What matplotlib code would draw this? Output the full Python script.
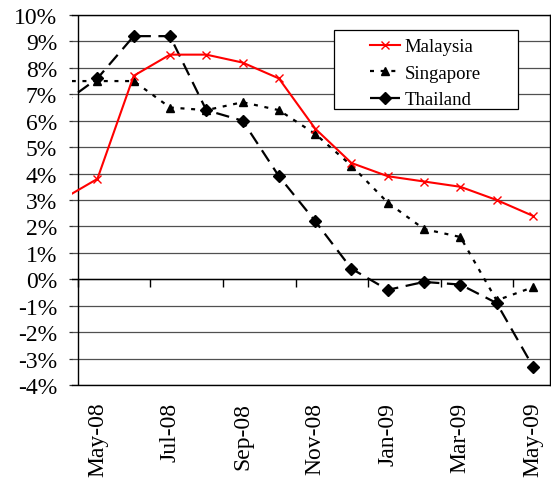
import matplotlib
matplotlib.use("Agg")
import matplotlib.pyplot as plt
from matplotlib.patches import Rectangle

# Monthly inflation rates (%), Apr-08 .. May-09
months = ["Apr-08", "May-08", "Jun-08", "Jul-08", "Aug-08", "Sep-08", "Oct-08",
          "Nov-08", "Dec-08", "Jan-09", "Feb-09", "Mar-09", "Apr-09", "May-09"]
malaysia = [3.0, 3.8, 7.7, 8.5, 8.5, 8.2, 7.6, 5.7, 4.4, 3.9, 3.7, 3.5, 3.0, 2.4]
singapore = [7.5, 7.5, 7.5, 6.5, 6.4, 6.7, 6.4, 5.5, 4.3, 2.9, 1.9, 1.6, -0.8, -0.3]
thailand = [6.6, 7.6, 9.2, 9.2, 6.4, 6.0, 3.9, 2.2, 0.4, -0.4, -0.1, -0.2, -0.9, -3.3]

y_ticks = list(range(-4, 11))
label_months = ["May-08", "Jul-08", "Sep-08", "Nov-08", "Jan-09", "Mar-09", "May-09"]

plt.rcParams["font.family"] = ["Liberation Serif", "DejaVu Serif"]

W, H = 551, 481
fig = plt.figure(figsize=(W / 100, H / 100), dpi=100)
ax = fig.add_axes([72 / W, (H - 386) / H, (550 - 72) / W, (386 - 16) / H])

x = list(range(len(months)))

ax.plot(x, malaysia, color="red", lw=1.5, marker="x", ms=6, mew=1.0,
        label="Malaysia", zorder=4)
ax.plot(x, singapore, color="black", lw=1.6, dashes=(1.8, 3.0), marker="^",
        ms=5.5, label="Singapore", zorder=3)
ax.plot(x, thailand, color="black", lw=1.6, dashes=(6.0, 3.4), marker="D",
        ms=6.5, label="Thailand", zorder=3)

ax.set_xlim(0.30, 13.47)
ax.set_ylim(-4, 10)

# horizontal gridlines
ax.set_yticks(y_ticks)
ax.set_yticklabels([f"{v}%" for v in y_ticks], fontsize=17)
ax.yaxis.grid(True, color="#505050", lw=0.9)
ax.set_axisbelow(True)
ax.tick_params(axis="y", length=2.2, width=0.9, color="#303030", pad=8.5)

# category labels sit below the plot area
pos = [months.index(m) for m in label_months]
ax.set_xticks(pos)
ax.set_xticklabels(label_months, rotation=90, fontsize=17)
ax.tick_params(axis="x", length=0, pad=12)

# value axis and category axis crossing at 0%
y_axis_x = 0.46
ax.axvline(y_axis_x, color="black", lw=1.0, zorder=2)
ax.axhline(0, color="black", lw=1.0, zorder=2)
tick_pos = [y_axis_x + 2 * k for k in range(7)]
ax.vlines(tick_pos, -0.3, 0, color="black", lw=1.0, zorder=2)

for side in ["top", "right", "bottom"]:
    ax.spines[side].set_color("black")
    ax.spines[side].set_linewidth(1.0)
ax.spines["left"].set_visible(False)

# legend box with wide inner margins
box = Rectangle((334 / W, 1 - 110 / H), (518 - 334) / W, (110 - 31) / H,
                transform=fig.transFigure, facecolor="white", edgecolor="black",
                lw=0.9, zorder=5)
fig.add_artist(box)
leg = fig.legend(*ax.get_legend_handles_labels(), loc="upper left",
                 bbox_to_anchor=(370 / W, 1 - 39 / H),
                 fontsize=13.5, frameon=False, handlelength=1.6,
                 handletextpad=0.25, labelspacing=0.5, borderpad=0,
                 borderaxespad=0, numpoints=1)
leg.set_zorder(6)

fig.savefig("out.png", dpi=100)
